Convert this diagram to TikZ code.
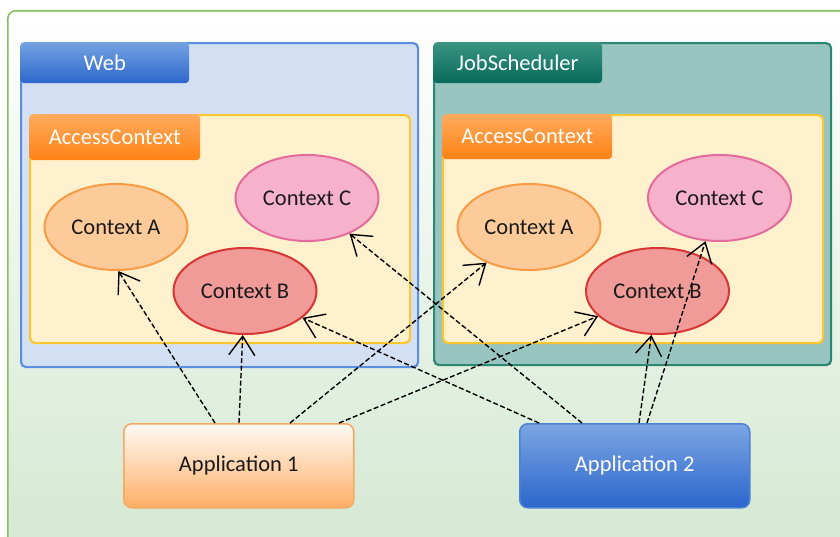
\documentclass[tikz,border=0pt]{standalone}
\usepackage{fontspec}
\setmainfont{Carlito}
\usetikzlibrary{shapes.geometric,arrows.meta}
\definecolor{outerline}{HTML}{82C15A}
\definecolor{outerfill}{HTML}{D4E8D2}
\definecolor{webfill}{HTML}{D3E0F4}
\definecolor{webline}{HTML}{5A8EDE}
\definecolor{webtabtop}{HTML}{74A2E2}
\definecolor{webtabbot}{HTML}{2C67CB}
\definecolor{jobfill}{HTML}{98C5BF}
\definecolor{jobline}{HTML}{2D8873}
\definecolor{jobtabtop}{HTML}{3A9582}
\definecolor{jobtabbot}{HTML}{07695A}
\definecolor{accfill}{HTML}{FFF1CD}
\definecolor{accline}{HTML}{FDC82F}
\definecolor{acctabtop}{HTML}{FFAB5E}
\definecolor{acctabbot}{HTML}{FF8214}
\definecolor{afill}{HTML}{FDCB9A}
\definecolor{aline}{HTML}{F99B44}
\definecolor{cfill}{HTML}{F7B2CB}
\definecolor{cline}{HTML}{E46B9C}
\definecolor{bfill}{HTML}{F09B98}
\definecolor{bline}{HTML}{D93535}
\definecolor{appatop}{HTML}{FFFAF5}
\definecolor{appabot}{HTML}{FFAE66}
\definecolor{appaline}{HTML}{F8A860}
\definecolor{appbtop}{HTML}{7CA5E3}
\definecolor{appbbot}{HTML}{2B66CC}
\definecolor{appbline}{HTML}{4C82D2}
\definecolor{txt}{HTML}{1A1A1A}
\tikzset{
  every node/.style={font=\fontsize{22.5}{27}\selectfont, text=txt},
  container/.style={draw, line width=2.2pt, rounded corners=5pt, anchor=north west, inner sep=0pt},
  tabbox/.style={rounded corners=4pt, anchor=north west, inner sep=0pt, text=white},
  ctxnode/.style={ellipse, draw, line width=2pt, minimum width=143pt, minimum height=86pt, inner sep=0pt},
  appnode/.style={draw, line width=1.5pt, rounded corners=8pt, minimum width=230pt, minimum height=84pt, anchor=north west, inner sep=0pt},
  dep/.style={dash pattern=on 5pt off 2.5pt, line width=1.4pt, black,
    -{Straight Barb[length=19pt,width=26pt,line width=1.4pt]}}
}
\begin{document}
\begin{tikzpicture}[x=1pt,y=-1pt]
\useasboundingbox (0,0) rectangle (840,536);
\begin{scope}
\clip (0,0) rectangle (840,536);
\node[draw=outerline, line width=1.5pt, rounded corners=8pt, top color=white, bottom color=outerfill,
  minimum width=850pt, minimum height=540pt, anchor=north west, inner sep=0pt] (outer) at (7,10) {};
\end{scope}
% Web container
\node[container, draw=webline, fill=webfill, minimum width=397pt, minimum height=324pt] (web) at (20,42) {};
\node[tabbox, top color=webtabtop, bottom color=webtabbot, minimum width=169pt, minimum height=41pt] (webtab) at (20,42) {Web};
\node[container, draw=accline, fill=accfill, minimum width=380pt, minimum height=228pt] (webacc) at (29,114) {};
\node[tabbox, top color=acctabtop, bottom color=acctabbot, minimum width=171pt, minimum height=46pt] (webacctab) at (29,114) {AccessContext};
\node[ctxnode, draw=aline, fill=afill] (wa) at (116,227) {Context A};
\node[ctxnode, draw=cline, fill=cfill] (wc) at (307,198) {Context C};
\node[ctxnode, draw=bline, fill=bfill] (wb) at (245,291) {Context B};
% JobScheduler container
\node[container, draw=jobline, fill=jobfill, minimum width=397pt, minimum height=322pt] (job) at (433,42) {};
\node[tabbox, top color=jobtabtop, bottom color=jobtabbot, minimum width=169pt, minimum height=41pt] (jobtab) at (433,42) {JobScheduler};
\node[container, draw=accline, fill=accfill, minimum width=380pt, minimum height=228pt] (jobacc) at (442,114) {};
\node[tabbox, top color=acctabtop, bottom color=acctabbot, minimum width=170pt, minimum height=45pt] (jobacctab) at (442,114) {AccessContext};
\node[ctxnode, draw=aline, fill=afill] (ja) at (529,227) {Context A};
\node[ctxnode, draw=cline, fill=cfill] (jc) at (719.5,198) {Context C};
\node[ctxnode, draw=bline, fill=bfill] (jb) at (657.5,291) {Context B};
% Applications
\node[appnode, draw=appaline, top color=appatop, bottom color=appabot] (app1) at (123,423) {Application 1};
\node[appnode, draw=appbline, top color=appbtop, bottom color=appbbot, text=white] (app2) at (519,423) {Application 2};
% coordinates on applications
\coordinate (a1s1) at ([xshift=92pt]app1.north west);
\coordinate (a1s2) at ([xshift=116pt]app1.north west);
\coordinate (a1s3) at ([xshift=167pt]app1.north west);
\coordinate (a1s4) at ([xshift=216pt]app1.north west);
\coordinate (a2s1) at ([xshift=20pt]app2.north west);
\coordinate (a2s2) at ([xshift=63pt]app2.north west);
\coordinate (a2s3) at ([xshift=120pt]app2.north west);
\coordinate (a2s4) at ([xshift=128pt]app2.north west);
% dependencies
\draw[dep] (a1s1) -- (wa.273);
\draw[dep] (a1s2) -- (wb.267);
\draw[dep] (a1s3) -- (ja.220);
\draw[dep] (a1s4) -- (jb.203);
\draw[dep] (a2s1) -- (wb.335);
\draw[dep] (a2s2) -- (wc.320);
\draw[dep] (a2s3) -- (jb.262);
\draw[dep] (a2s4) -- (jc.252);
\end{tikzpicture}
\end{document}
